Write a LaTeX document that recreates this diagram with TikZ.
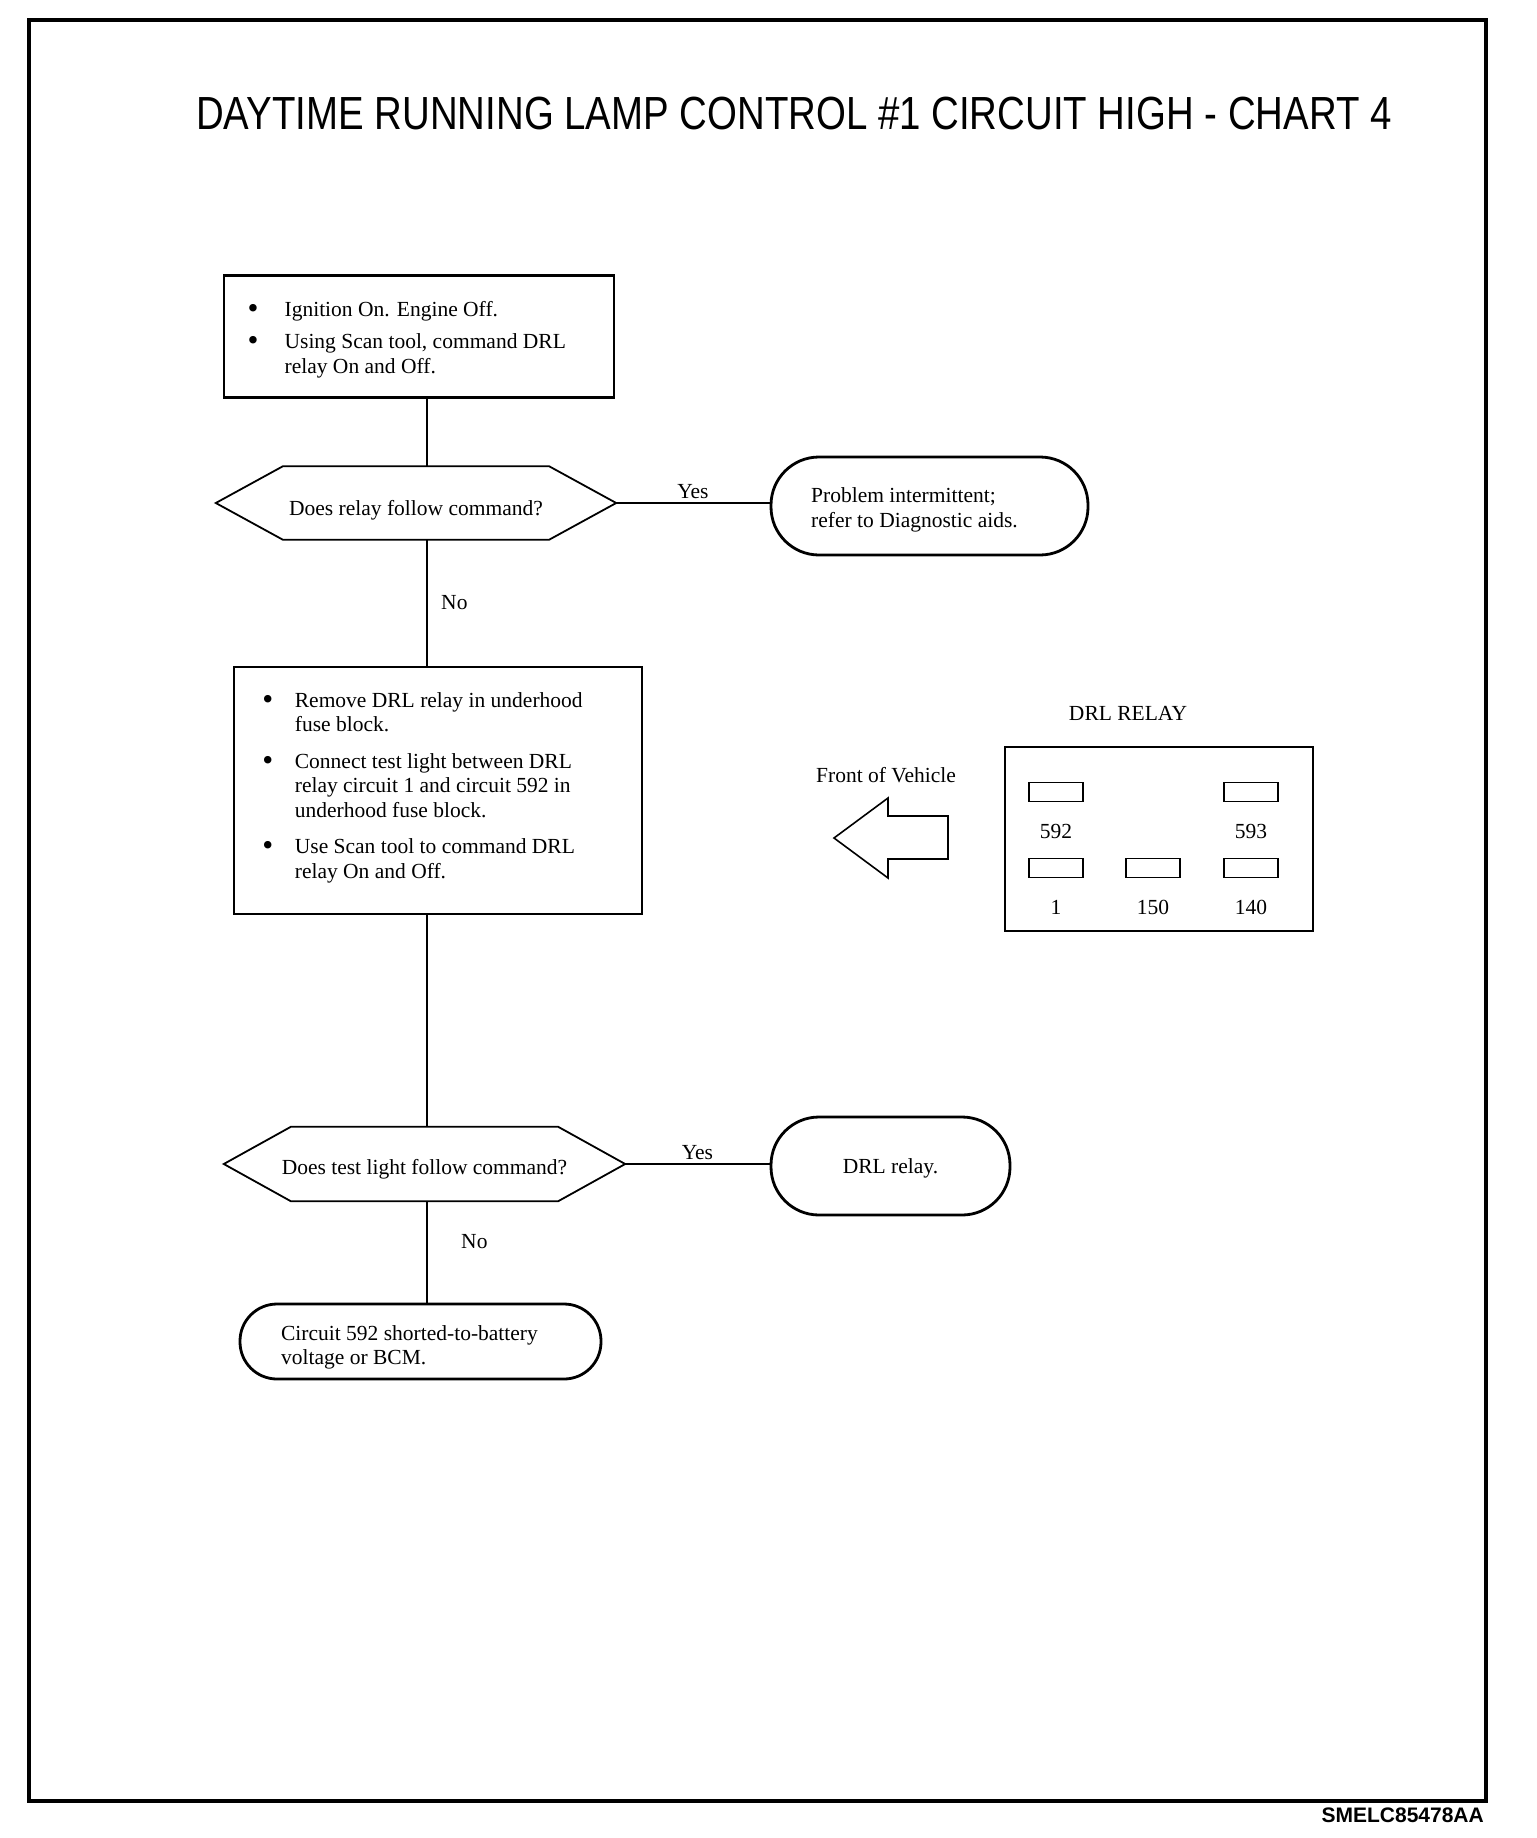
\documentclass[tikz,border=0pt]{standalone}
\usepackage{graphicx}
\usepackage{fontspec}
\setmainfont{Liberation Serif}
\newfontfamily\titlefont{Liberation Sans}
\usetikzlibrary{calc}

\newcommand{\bodysize}{\fontsize{21.5}{24.5}\selectfont}
\newcommand{\blt}{\raisebox{-2pt}{\scalebox{1.45}{\textbullet}}}
\newcommand{\lowtop}[1]{\rule{0pt}{#1}}
\newcommand{\hexframe}[1]{%
  \draw[hexline] (#1.west) -- ($(#1.north west)+(67,0)$) -- ($(#1.north east)+(-67,0)$)
    -- (#1.east) -- ($(#1.south east)+(-67,0)$) -- ($(#1.south west)+(67,0)$) -- cycle;}

\tikzset{
  actbox/.style={draw, line width=2.4pt, inner sep=0pt},
  question/.style={inner sep=0pt, minimum width=400pt, minimum height=73pt},
  hexline/.style={line width=1.8pt, line join=miter},
  terminal/.style={draw, line width=2.8pt, inner sep=0pt, rounded corners=#1},
  link/.style={line width=1.8pt},
  pin/.style={draw, line width=1.6pt, minimum width=54pt, minimum height=19pt, inner sep=0pt},
}

\begin{document}
\begin{tikzpicture}[x=1pt, y=-1pt, font=\bodysize]
  \useasboundingbox (0,0) rectangle (1536,1838);
  \draw[line width=4.5pt] (29,20) rectangle (1486,1801);

  \node[font=\titlefont\fontsize{38.4}{40}\selectfont] (title) at (794,114)
    {\scalebox{1}[1.21]{DAYTIME RUNNING LAMP CONTROL \#1 CIRCUIT HIGH - CHART 4}};

  % flow chart
  \node[actbox, minimum width=390pt, minimum height=122pt] (check1) at (419,336.5) {%
    \begin{tabular}{@{}l@{\hspace{26.1pt}}l@{\hspace{24.5pt}}}
      \blt & \lowtop{24pt}Ignition On. Engine Off.\\[8pt]
      \blt & Using Scan tool, command DRL\\
           & relay On and Off.
    \end{tabular}};
  \node[question] (ask1) at (416,503) {\lowtop{29pt}Does relay follow command?};
  \hexframe{ask1}
  \node[terminal=48pt, minimum width=317pt, minimum height=98pt] (done1) at (929.5,506) {%
    \begin{tabular}{@{}l@{\hspace{30pt}}}
      \lowtop{25pt}Problem intermittent;\\
      refer to Diagnostic aids.
    \end{tabular}};
  \node[actbox, minimum width=408pt, minimum height=247pt] (check2) at (438,790.5) {%
    \begin{tabular}{@{}l@{\hspace{21.6pt}}l@{\hspace{31pt}}}
      \blt & Remove DRL relay in underhood\\
           & fuse block.\\[12pt]
      \blt & Connect test light between DRL\\
           & relay circuit 1 and circuit 592 in\\
           & underhood fuse block.\\[12pt]
      \blt & Use Scan tool to command DRL\\
           & relay On and Off.\rule[-12.4pt]{0pt}{1pt}
    \end{tabular}};
  \node[question, minimum width=401pt, minimum height=74pt] (ask2) at (424.5,1164) {\lowtop{26pt}Does test light follow command?};
  \hexframe{ask2}
  \node[terminal=48pt, minimum width=239pt, minimum height=98pt] (done2) at (890.5,1166) {\lowtop{19pt}DRL relay.};
  \node[terminal=37pt, minimum width=361pt, minimum height=75pt] (done3) at (420.5,1341.5) {%
    \begin{tabular}{@{}l@{\hspace{22pt}}}
      \lowtop{29pt}Circuit 592 shorted-to-battery\\
      voltage or BCM.
    \end{tabular}};

  \coordinate (spine) at (427,0);
  \draw[link] (check1.south -| spine) -- (ask1.north -| spine);
  \draw[link] (ask1.south -| spine) -- node[right=10pt] {No} (check2.north -| spine);
  \draw[link] (check2.south -| spine) -- (ask2.north -| spine);
  \draw[link] (ask2.south -| spine) -- node[pos=0.4, right=30pt] {No} (done3.north -| spine);
  \draw[link] (ask1.east) -- node[above] {Yes} (ask1.east -| done1.west);
  \draw[link] (ask2.east) -- node[above] {Yes} (ask2.east -| done2.west);

  % relay layout
  \node (relaytitle) at (1128,713) {DRL RELAY};
  \node[draw, line width=1.8pt, minimum width=308pt, minimum height=184pt] (relay) at (1159,839) {};
  \foreach \pname/\px/\py/\plbl in {p592/1056/792/592, p593/1251/792/593,
      p1/1056/868/1, p150/1153/868/150, p140/1251/868/140}{
    \node[pin] (\pname) at (\px,\py) {};
    \node (\pname-lbl) at (\px,\py+39) {\plbl};
  }

  \node (front) at (886,775) {Front of Vehicle};
  \draw[line width=1.6pt, line join=miter] (834,838) -- (888,798) -- (888,816) -- (948,816)
    -- (948,859) -- (888,859) -- (888,878) -- cycle;

  \node[anchor=east, inner sep=0pt, font=\titlefont\fontsize{21}{24}\selectfont\bfseries] (figid)
    at (1484,1815) {SMELC85478AA};
\end{tikzpicture}
\end{document}
